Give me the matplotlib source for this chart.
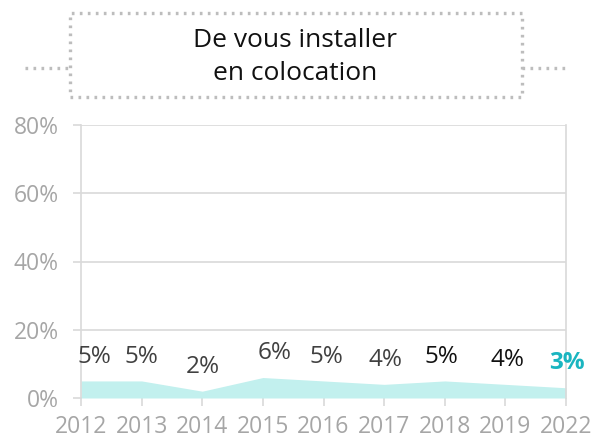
import matplotlib.pyplot as plt
from matplotlib.patches import Rectangle
from matplotlib.lines import Line2D

plt.rcParams['font.family'] = ['Open Sans', 'DejaVu Sans']

years = ['2012', '2013', '2014', '2015', '2016', '2017', '2018', '2019', '2022']
values = [5, 5, 2, 6, 5, 4, 5, 4, 3]
label_colors = ['#404040'] * 6 + ['#111111'] * 2 + ['#1ab5c0']
title = 'De vous installer\nen colocation'

grid_col = '#d9d9d9'
tick_col = '#a6a6a6'
dot_col = '#bdbdbd'

fig = plt.figure(figsize=(5.95, 4.4), dpi=100)
ax = fig.add_axes([81/595, 42/440, 485/595, 273/440])

x = list(range(len(years)))
ax.fill_between(x, values, 0, color='#c2f0ee', linewidth=0)

# value labels above the points (small nudges as in the reference)
dx = [13, 0, 1, 12, 3, 1, -3, 2, 1]
for i, v in enumerate(values):
    bold = i == len(values) - 1
    ax.annotate(f'{v}%', (x[i], v), xytext=(dx[i] * 0.72, 17.5), textcoords='offset points',
                ha='center', va='center', fontsize=17.5,
                fontweight='bold' if bold else 'normal', color=label_colors[i])

ax.set_xlim(0, len(years) - 1)
ax.set_ylim(0, 80)
ax.set_xticks(x)
ax.set_xticklabels(years)
ax.set_yticks([0, 20, 40, 60, 80])
ax.set_yticklabels([f'{t}%' for t in [0, 20, 40, 60, 80]])
ax.yaxis.grid(True, color=grid_col, linewidth=1.2)
ax.set_axisbelow(True)
ax.tick_params(axis='both', colors=grid_col, labelcolor=tick_col, labelsize=16.5, length=6, width=1.2)
ax.tick_params(axis='x', pad=6)
ax.tick_params(axis='y', pad=10)
for s in ['left', 'right']:
    ax.spines[s].set_color(grid_col)
    ax.spines[s].set_linewidth(1.2)
ax.spines['top'].set_visible(False)
ax.spines['bottom'].set_visible(False)

# dotted title box with side dashes
dots = (0, (0.8, 1.6))
fig.patches.append(Rectangle((70/595, 1 - 97/440), 452/595, 84/440, transform=fig.transFigure,
                             fill=False, edgecolor=dot_col, linestyle=dots, linewidth=2.4))
fig.lines.append(Line2D([25/595, 70/595], [1 - 68/440] * 2, transform=fig.transFigure,
                        color=dot_col, linestyle=dots, linewidth=2.4))
fig.lines.append(Line2D([522/595, 567/595], [1 - 68/440] * 2, transform=fig.transFigure,
                        color=dot_col, linestyle=dots, linewidth=2.4))
fig.text(295/595, 1 - 57/440, title, ha='center', va='center', fontsize=19,
         color='#111111', linespacing=1.4)

fig.savefig('out.png', dpi=100)
